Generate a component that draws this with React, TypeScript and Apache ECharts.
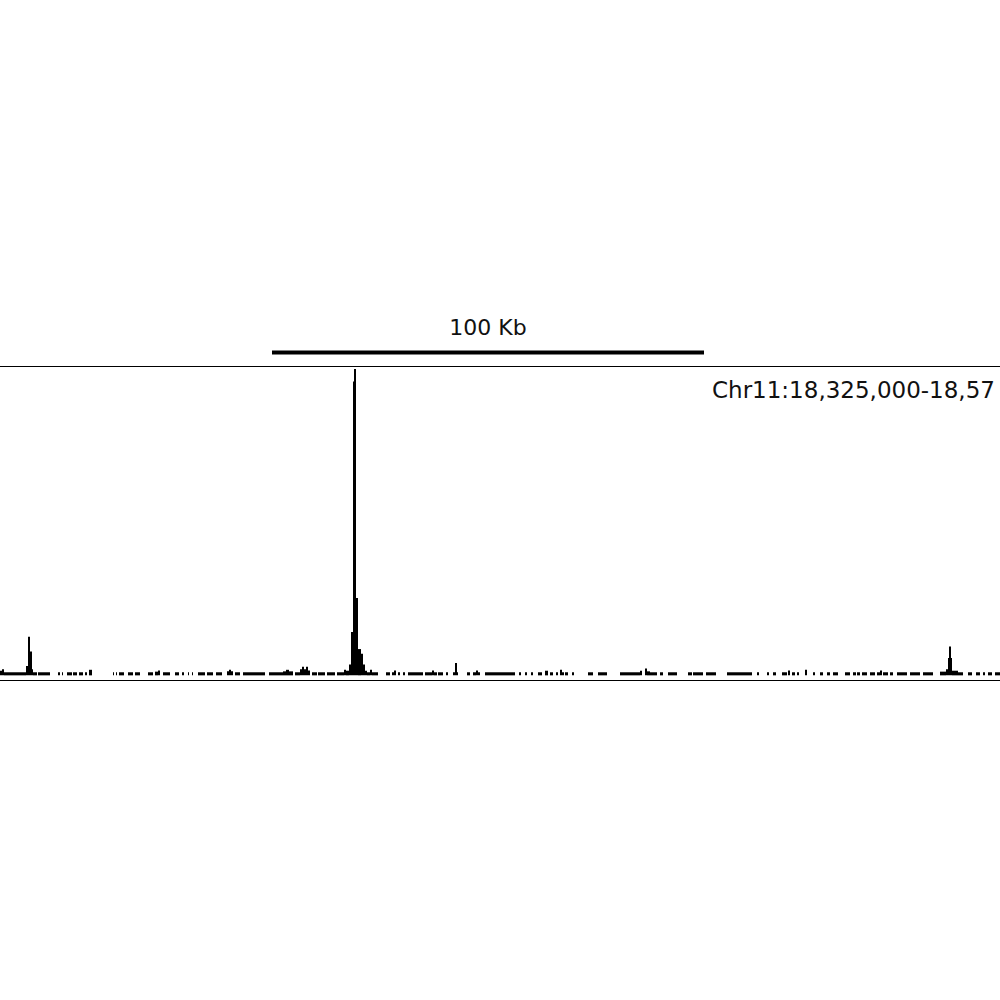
import React, { useEffect, useRef } from "react";
import * as echarts from "echarts";

// x in bins of ~231.5 bp (432 bins = 100 Kb), y in signal units
const viewBins = [0, 1000];
const scaleBarBins = [272, 704];
const scaleBarLabel = "100 Kb";
const locusLabel = "Chr11:18,325,000-18,57";

// [startBin, endBin, signal]
const leftPeak = [
  [26, 28, 3], [28, 30, 12.5], [30, 32, 7.7], [32, 33, 2],
];
const mainPeak = [
  [346, 349, 1.5], [349, 351, 3.5], [351, 353, 14], [353, 354, 95], [354, 356, 99],
  [356, 358, 25], [358, 361, 8.5], [361, 363, 7], [363, 365, 3.5], [365, 367, 1.5],
];
const rightPeak = [
  [940, 946, 1.2], [946, 948, 2], [948, 949, 5.6], [949, 951, 9.3], [951, 952, 5.6], [952, 958, 1.5],
];
const backgroundSignal = [
  [0, 2, 1.5], [2, 4, 2], [4, 26, 1],
  [33, 37, 1], [38, 50, 1], [58, 60, 1], [62, 63, 1], [67, 72, 1], [73, 77, 1], [79, 83, 1], [85, 87, 1], [89, 92, 1.8],
  [113, 114, 1], [116, 117, 1], [119, 124, 1], [128, 133, 1], [135, 140, 1], [148, 153, 1], [155, 158, 1.2], [158, 160, 1.6],
  [163, 170, 1], [175, 179, 1], [182, 184, 1], [188, 189, 1], [192, 193, 1], [198, 205, 1], [207, 213, 1], [216, 222, 1],
  [227, 229, 1.3], [229, 231, 1.8], [231, 233, 1.3], [235, 240, 1], [243, 265, 1],
  [269, 283, 1], [283, 286, 1.3], [286, 289, 1.8], [289, 293, 1.3], [295, 300, 1], [300, 302, 2], [302, 304, 2.8],
  [304, 306, 2], [306, 308, 2.8], [308, 310, 1.6], [312, 317, 1], [318, 325, 1], [327, 335, 1], [337, 344, 1], [344, 346, 1.8],
  [367, 370, 1], [370, 372, 1.8], [372, 378, 1],
  [386, 390, 1], [392, 394, 1], [394, 396, 1.6], [398, 400, 1], [403, 405, 1], [408, 423, 1], [425, 432, 1], [432, 434, 1.6],
  [434, 437, 1], [438, 443, 1], [446, 448, 1], [453, 455, 1], [455, 457, 4], [457, 458, 1], [467, 470, 1], [473, 476, 1],
  [476, 478, 1.6], [478, 480, 1], [485, 515, 1], [519, 521, 1], [525, 527, 1], [531, 533, 1], [538, 542, 1], [545, 548, 1.5],
  [550, 553, 1], [556, 558, 1], [560, 562, 1.8], [562, 564, 1], [565, 568, 1], [572, 574, 1],
  [588, 593, 1], [598, 607, 1], [620, 640, 1], [640, 642, 1.5], [645, 647, 2.2], [647, 650, 1.3], [650, 657, 1], [660, 663, 1],
  [668, 677, 1], [688, 692, 1], [693, 703, 1], [706, 716, 1], [727, 752, 1], [757, 759, 1], [767, 769, 1], [773, 776, 1],
  [782, 787, 1], [788, 790, 1.6], [792, 795, 1], [797, 799, 1], [805, 807, 1.8], [813, 815, 1], [820, 823, 1], [827, 830, 1],
  [833, 838, 1], [845, 850, 1], [853, 856, 1], [857, 860, 1], [862, 867, 1], [870, 875, 1], [877, 880, 1], [880, 882, 1.6],
  [883, 888, 1], [890, 893, 1], [897, 907, 1], [910, 920, 1], [923, 933, 1],
  [958, 963, 1], [968, 972, 1], [976, 980, 1], [983, 985, 1], [988, 992, 1], [995, 1000, 1],
];

const signalMin = -1.5;
const signalMax = 100;

export default function App() {
  const ref = useRef<HTMLDivElement>(null);
  useEffect(() => {
    if (!ref.current) return;
    const chart = echarts.init(ref.current, null, { renderer: "svg" });
    const track = [...backgroundSignal, ...leftPeak, ...mainPeak, ...rightPeak];
    const renderItem = (params: any, api: any) => {
      const p0 = api.coord([api.value(0), 0]);
      const p1 = api.coord([api.value(1), api.value(2)]);
      return {
        type: "rect",
        shape: { x: p0[0], y: p1[1], width: p1[0] - p0[0], height: p0[1] - p1[1] },
        style: { fill: "#000" },
      };
    };
    chart.setOption({
      animation: false,
      backgroundColor: "#fff",
      grid: [
        { left: 0, right: 0, top: 366, height: 314 },
        { left: 0, right: 0, top: 340, height: 25 },
      ],
      xAxis: [
        {
          gridIndex: 0, type: "value", min: viewBins[0], max: viewBins[1], position: "bottom",
          axisLine: { show: true, onZero: false, lineStyle: { color: "#000", width: 1.2 } },
          axisTick: { show: false }, axisLabel: { show: false }, splitLine: { show: false },
        },
        {
          gridIndex: 0, type: "value", min: viewBins[0], max: viewBins[1], position: "top",
          axisLine: { show: true, onZero: false, lineStyle: { color: "#000", width: 1 } },
          axisTick: { show: false }, axisLabel: { show: false }, splitLine: { show: false },
        },
        { gridIndex: 1, type: "value", min: viewBins[0], max: viewBins[1], show: false },
      ],
      yAxis: [
        { gridIndex: 0, type: "value", min: signalMin, max: signalMax, show: false },
        { gridIndex: 1, type: "value", min: 0, max: 1, show: false },
      ],
      series: [
        {
          type: "custom",
          xAxisIndex: 0,
          yAxisIndex: 0,
          renderItem,
          encode: { x: [0, 1], y: 2 },
          data: track,
          clip: true,
        },
        {
          type: "line",
          xAxisIndex: 2,
          yAxisIndex: 1,
          symbol: "none",
          lineStyle: { color: "#000", width: 4, cap: "butt" },
          data: [[scaleBarBins[0], 0.5], [scaleBarBins[1], 0.5]],
        },
      ],
      graphic: [
        {
          type: "text",
          x: 488,
          y: 327,
          style: {
            text: scaleBarLabel,
            align: "center",
            verticalAlign: "middle",
            font: "22px 'DejaVu Sans'",
            fill: "#111",
          },
        },
        {
          type: "text",
          x: 712,
          y: 390,
          style: {
            text: locusLabel,
            align: "left",
            verticalAlign: "middle",
            font: "23px 'DejaVu Sans'",
            fill: "#111",
          },
        },
      ],
    });
    return () => chart.dispose();
  }, []);
  return (
    <div
      ref={ref}
      style={{ position: "fixed", left: 0, top: 0, width: 1000, height: 1000 }}
    />
  );
}
